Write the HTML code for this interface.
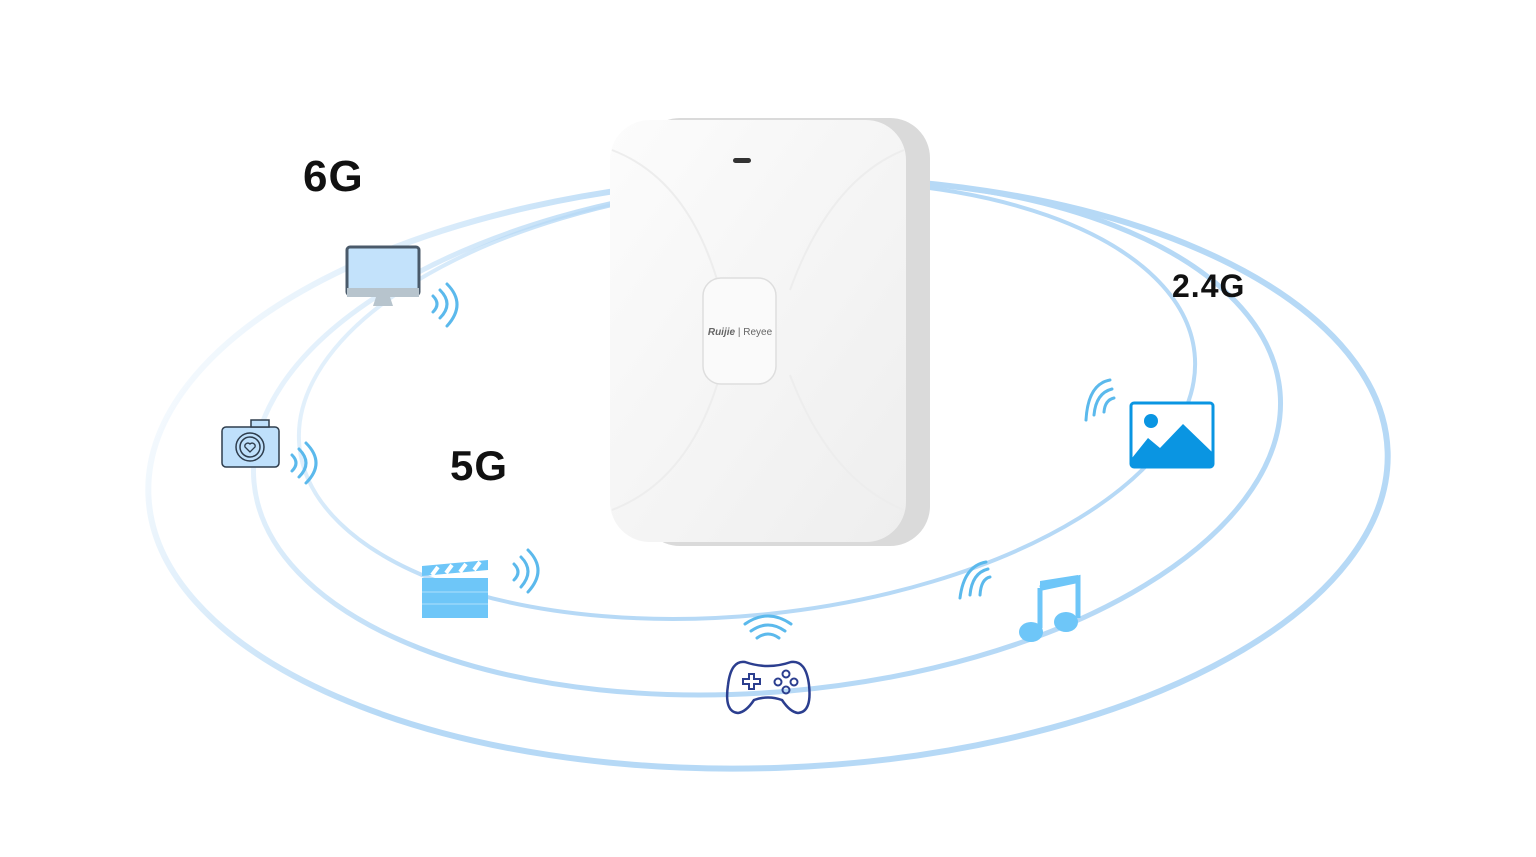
<!DOCTYPE html>
<html><head><style>
html,body{margin:0;padding:0;background:#fff;width:1536px;height:857px;overflow:hidden;}
.lbl{position:absolute;font-family:"Liberation Sans",sans-serif;font-weight:bold;color:#111;letter-spacing:1px;}
</style></head><body>
<svg width="1536" height="857" viewBox="0 0 1536 857" style="position:absolute;left:0;top:0">
<defs>
<linearGradient id="g" gradientUnits="userSpaceOnUse" x1="250" y1="220" x2="800" y2="560">
<stop offset="0" stop-color="#bcdcf6" stop-opacity="0.12"/>
<stop offset="0.55" stop-color="#b6d9f6" stop-opacity="1"/>
<stop offset="1" stop-color="#b6d9f6" stop-opacity="1"/>
</linearGradient>
<linearGradient id="dev" x1="0" y1="0" x2="1" y2="1">
<stop offset="0" stop-color="#fcfcfc"/><stop offset="1" stop-color="#eeeeee"/>
</linearGradient>
</defs>
<g fill="none" stroke="url(#g)">
<ellipse cx="768" cy="473" rx="620" ry="295" stroke-width="6" transform="rotate(-2 768 473)"/>
<ellipse cx="767" cy="437" rx="515" ry="255" stroke-width="5" transform="rotate(-5 767 437)"/>
<ellipse cx="747" cy="400" rx="450" ry="215" stroke-width="4" transform="rotate(-6 747 400)"/>
</g>
<!-- device -->
<rect x="640" y="118" width="290" height="428" rx="40" fill="#dadada"/>
<rect x="610" y="120" width="296" height="422" rx="40" fill="url(#dev)"/>
<path d="M612 150 Q690 180 720 290 M904 150 Q830 180 790 290 M612 510 Q690 480 720 375 M904 510 Q830 480 790 375" stroke="#ededed" stroke-width="2" fill="none"/>
<rect x="733" y="158" width="18" height="5" rx="2.5" fill="#333"/>
<rect x="703" y="278" width="73" height="106" rx="18" fill="#fafafa" stroke="#dedede" stroke-width="1.5"/>
<text x="740" y="335" font-family="Liberation Sans" font-size="10" font-style="italic" font-weight="bold" fill="#666" text-anchor="middle">Ruijie <tspan font-weight="normal" font-style="normal">| Reyee</tspan></text>
<!-- monitor -->
<rect x="347" y="247" width="72" height="48" rx="3" fill="#c3e2fb" stroke="#4a5a6a" stroke-width="3"/>
<rect x="347" y="288" width="72" height="9" fill="#b7c4cd"/>
<path d="M376 297 h14 l3 9 h-20 z" fill="#b7c4cd"/>
<!-- camera -->
<rect x="222" y="427" width="57" height="40" rx="4" fill="#bfe0fb" stroke="#2e3d4d" stroke-width="1.5"/>
<rect x="251" y="420" width="18" height="7" fill="#bfe0fb" stroke="#2e3d4d" stroke-width="1.5"/>
<circle cx="250" cy="447" r="14" fill="#bfe0fb" stroke="#2e3d4d" stroke-width="1.5"/>
<circle cx="250" cy="447" r="10" fill="none" stroke="#2e3d4d" stroke-width="1.5"/>
<path d="M250 452 l-5 -5 a3 3 0 0 1 5 -3 a3 3 0 0 1 5 3 z" fill="none" stroke="#2e3d4d" stroke-width="1.3"/>
<!-- clapper -->
<rect x="422" y="578" width="66" height="40" fill="#6ec6f8"/>
<path d="M422 566 l66 -6 v10 l-66 6 z" fill="#6ec6f8"/>
<path d="M432 575 l6 -8 M446 573 l6 -8 M460 572 l6 -8 M474 570 l6 -8" stroke="#fff" stroke-width="4"/>
<path d="M422 592 h66 M422 604 h66" stroke="#aee0fb" stroke-width="1"/>
<!-- gamepad -->
<path d="M745 662 Q768 670 791 662 Q806 660 809 685 Q812 712 798 713 Q790 712 782 700 Q768 695 754 700 Q746 712 738 713 Q724 712 728 685 Q731 660 745 662 Z" fill="none" stroke="#2b3e8f" stroke-width="2.5"/>
<path d="M745 679 h6 v-5 h5 v5 h6 v5 h-6 v5 h-5 v-5 h-6 z" fill="none" stroke="#2b3e8f" stroke-width="2" transform="translate(-2,0)"/>
<g fill="none" stroke="#2b3e8f" stroke-width="2"><circle cx="786" cy="674" r="3.5"/><circle cx="786" cy="690" r="3.5"/><circle cx="778" cy="682" r="3.5"/><circle cx="794" cy="682" r="3.5"/></g>
<!-- music -->
<path d="M1040 588 l38 -10 v40 M1040 588 v40" stroke="#6ec6f8" stroke-width="5" fill="none"/>
<path d="M1040 581 l38 -6 v8 l-38 8 z" fill="#6ec6f8"/>
<ellipse cx="1031" cy="632" rx="12" ry="10" fill="#6ec6f8"/>
<ellipse cx="1066" cy="622" rx="12" ry="10" fill="#6ec6f8"/>
<!-- image -->
<rect x="1131" y="403" width="82" height="64" rx="3" fill="#fff" stroke="#0a95e2" stroke-width="3"/>
<circle cx="1151" cy="421" r="7" fill="#0a95e2"/>
<path d="M1132 458 L1148 438 L1160 448 L1183 424 L1212 452 V466 H1132 Z" fill="#0a95e2"/>
<!-- wifi arcs -->
<g fill="none" stroke="#5bb9ec" stroke-width="3" stroke-linecap="round">
<path d="M433 296 q8 8 0 16 M440 290 q14 14 0 28 M447 284 q20 20 0 42"/>
<path d="M292 455 q8 8 0 16 M299 449 q14 14 0 28 M306 443 q20 20 0 40"/>
<path d="M514 564 q8 8 0 16 M521 557 q14 14 0 30 M528 550 q20 20 0 42"/>
<path d="M757 638 q11 -8 22 0 M751 631 q17 -12 34 0 M745 624 q23 -16 46 0"/>
<path d="M990 577 q-9 2 -10 18 M988 569 q-16 4 -18 26 M986 562 q-22 4 -26 36"/>
<path d="M1114 398 q-9 2 -10 14 M1112 389 q-16 4 -18 26 M1110 380 q-22 4 -24 40"/>
</g>
</svg>
<div class="lbl" style="left:303px;top:152px;font-size:44px;">6G</div>
<div class="lbl" style="left:450px;top:442px;font-size:42px;">5G</div>
<div class="lbl" style="left:1172px;top:268px;font-size:32px;">2.4G</div>
</body></html>
